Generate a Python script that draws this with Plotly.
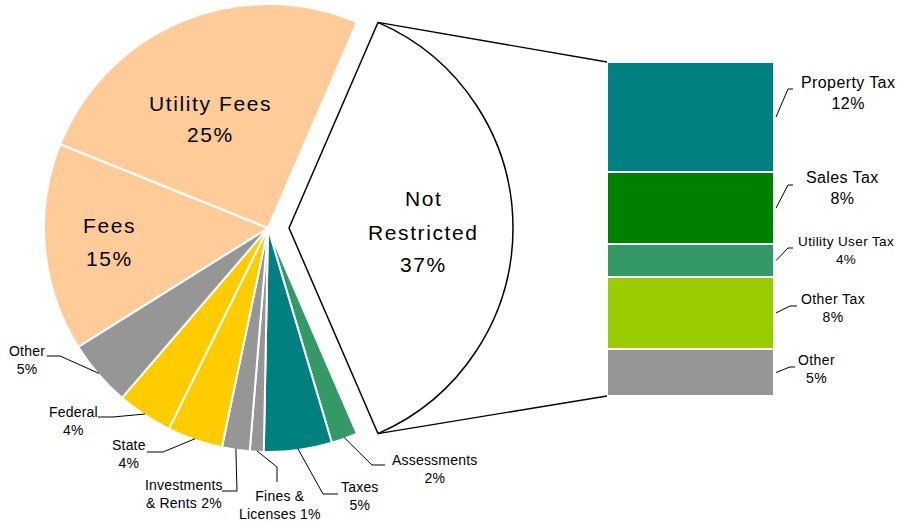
import math
import plotly.graph_objects as go

W, H = 901, 523

# ---------------- data ----------------
pie_labels = ["Not Restricted", "Assessments", "Taxes", "Fines & Licenses",
              "Investments & Rents", "State", "Federal", "Other", "Fees", "Utility Fees"]
pie_values = [37.0, 1.9, 4.9, 1.0, 2.0, 4.0, 4.0, 4.8, 15.0, 25.4]
pie_colors = ["#FFFFFF", "#339966", "#008080", "#969696", "#969696",
              "#FFCC00", "#FFCC00", "#969696", "#FFCC99", "#FFCC99"]

bar_labels = ["Property Tax", "Sales Tax", "Utility User Tax", "Other Tax", "Other"]
bar_values = [12.2, 8.0, 3.6, 8.0, 5.2]
bar_colors = ["#008080", "#008000", "#339966", "#99CC00", "#969696"]

# ---------------- layout geometry (pixels) ----------------
PIE_CX, PIE_CY, PIE_R = 268, 228, 224
PULL_PX = 21
BAR_X0, BAR_X1, BAR_Y0, BAR_Y1 = 607, 774, 62, 396
FONT = "Liberation Sans, Arial, sans-serif"


def px(x):
    return x / W


def py(y):
    return 1 - y / H


total = sum(pie_values)
split_share = pie_values[0] / total
rotation = 90 - split_share * 180  # centre the split slice on 3 o'clock

# bearings (clockwise from 12 o'clock) of slice starts / mids
starts, mids = [], []
acc = rotation
for v in pie_values:
    span = v / total * 360
    starts.append(acc)
    mids.append(acc + span / 2)
    acc += span


def arc_point(cx, cy, r, bearing):
    a = math.radians(bearing)
    return cx + r * math.sin(a), cy - r * math.cos(a)


fig = go.Figure()

# main pie (split slice hidden)
main_colors = ["rgba(0,0,0,0)"] + pie_colors[1:]
main_lw = [0] + [2] * (len(pie_values) - 1)
fig.add_trace(go.Pie(
    labels=pie_labels, values=pie_values, sort=False, direction="clockwise",
    rotation=rotation, textinfo="none", hoverinfo="label+percent",
    marker=dict(colors=main_colors, line=dict(color="white", width=main_lw)),
    domain=dict(x=[px(PIE_CX - PIE_R), px(PIE_CX + PIE_R)],
                y=[py(PIE_CY + PIE_R), py(PIE_CY - PIE_R)]),
    showlegend=False,
))

# exploded split slice
pcx = PIE_CX + PULL_PX
split_colors = [pie_colors[0]] + ["rgba(0,0,0,0)"] * (len(pie_values) - 1)
split_lw = [1.5] + [0] * (len(pie_values) - 1)
split_lc = ["black"] + ["rgba(0,0,0,0)"] * (len(pie_values) - 1)
fig.add_trace(go.Pie(
    labels=pie_labels, values=pie_values, sort=False, direction="clockwise",
    rotation=rotation, textinfo="none", hoverinfo="skip",
    marker=dict(colors=split_colors, line=dict(color=split_lc, width=split_lw)),
    domain=dict(x=[px(pcx - PIE_R), px(pcx + PIE_R)],
                y=[py(PIE_CY + PIE_R), py(PIE_CY - PIE_R)]),
    showlegend=False,
))

# stacked bar (bottom to top)
for lab, val, col in reversed(list(zip(bar_labels, bar_values, bar_colors))):
    fig.add_trace(go.Bar(
        x=[0], y=[val], name=lab, marker=dict(color=col, line=dict(color="white", width=2)),
        width=1, showlegend=False, hoverinfo="name+y",
    ))

shapes = []
annotations = []


def path_shape(points, width=1):
    d = "M " + " L ".join(f"{px(x):.5f},{py(y):.5f}" for x, y in points)
    shapes.append(dict(type="path", path=d, xref="paper", yref="paper",
                       line=dict(color="black", width=width), layer="above"))


def add_text(text, x, y, size, spacing=0.0):
    if spacing:
        text = f'<span style="letter-spacing:{spacing}px">{text}</span>'
    annotations.append(dict(text=text, x=px(x), y=py(y), xref="paper", yref="paper",
                            showarrow=False, xanchor="center", yanchor="middle",
                            font=dict(family=FONT, size=size, color="black")))


# connector lines from exploded slice to bar
top_v = arc_point(pcx, PIE_CY, PIE_R, starts[0])
bot_v = arc_point(pcx, PIE_CY, PIE_R, starts[0] + split_share * 360)
path_shape([top_v, (BAR_X0, BAR_Y0)], 1.3)
path_shape([bot_v, (BAR_X0, BAR_Y1)], 1.3)

# big inside labels (one annotation per line)
big_label_pos = {
    "Utility Fees": (210, [103, 135]),
    "Fees": (109, [226, 258]),
    "Not Restricted": (423, [199, 232, 264]),
}
for i, lab in enumerate(pie_labels):
    if lab in big_label_pos:
        x, ys = big_label_pos[lab]
        words = lab.split(" ") if lab == "Not Restricted" else [lab]
        lines = words + [f"{pie_values[i]:.0f}%"]
        for ln, yy in zip(lines, ys):
            add_text(ln, x, yy, 21, 1.6)

# small pie labels with leader lines: (label centre, elbow, end)
small_pie_pos = {
    "Other": ((27, 360), (60, 356), (47, 356)),
    "Federal": ((73, 421), (113, 417), (98, 417)),
    "State": ((129, 454), (163, 452), (147, 452)),
    "Investments & Rents": ((184, 494), (237, 491), (222, 491)),
    "Fines & Licenses": ((280, 505), (277, 467), (277, 482)),
    "Taxes": ((360, 496), (323, 494), (338, 494)),
    "Assessments": ((434, 469), (372, 465), (385, 465)),
}
line_breaks = {"Fines & Licenses": ("Fines &", "Licenses"),
               "Investments & Rents": ("Investments", "& Rents")}
for i, lab in enumerate(pie_labels):
    if lab in small_pie_pos:
        (lx, ly), elbow, end = small_pie_pos[lab]
        pct = f"{pie_values[i]:.0f}%"
        if lab in line_breaks:
            a, b = line_breaks[lab]
            txt = f"{a}<br>{b} {pct}"
        else:
            txt = f"{lab}<br>{pct}"
        add_text(txt, lx, ly, 14, 0.2)
        start = arc_point(PIE_CX, PIE_CY, PIE_R - 1, mids[i])
        path_shape([start, elbow, end], 1)

# bar labels
bar_label_pos = {
    "Property Tax": ((848, 93), (788, 89), (793, 89), 16),
    "Sales Tax": ((842, 188), (788, 185), (793, 185), 16),
    "Utility User Tax": ((846, 250), (788, 248), (793, 248), 13.5),
    "Other Tax": ((833, 308), (790, 306), (797, 306), 14),
    "Other": ((816, 369), (790, 367), (795, 367), 14),
}
btotal = sum(bar_values)
ytop = BAR_Y0
for lab, val in zip(bar_labels, bar_values):
    h = val / btotal * (BAR_Y1 - BAR_Y0)
    ymid = ytop + h / 2
    ytop += h
    (lx, ly), elbow, end, fs = bar_label_pos[lab]
    add_text(f"{lab}<br>{val:.0f}%", lx, ly, fs, 0.4)
    path_shape([(BAR_X1 + 2, ymid), elbow, end], 1)

fig.update_layout(
    width=W, height=H, margin=dict(l=0, r=0, t=0, b=0),
    paper_bgcolor="white", plot_bgcolor="rgba(0,0,0,0)",
    barmode="stack", bargap=0,
    xaxis=dict(domain=[px(BAR_X0), px(BAR_X1)], range=[-0.5, 0.5], visible=False, fixedrange=True),
    yaxis=dict(domain=[py(BAR_Y1), py(BAR_Y0)], range=[0, btotal], visible=False, fixedrange=True),
    shapes=shapes, annotations=annotations,
    font=dict(family=FONT),
)

fig.write_html("out.html", config={"displayModeBar": False},
               post_script="document.body.style.margin='0';document.body.style.overflow='hidden';")
